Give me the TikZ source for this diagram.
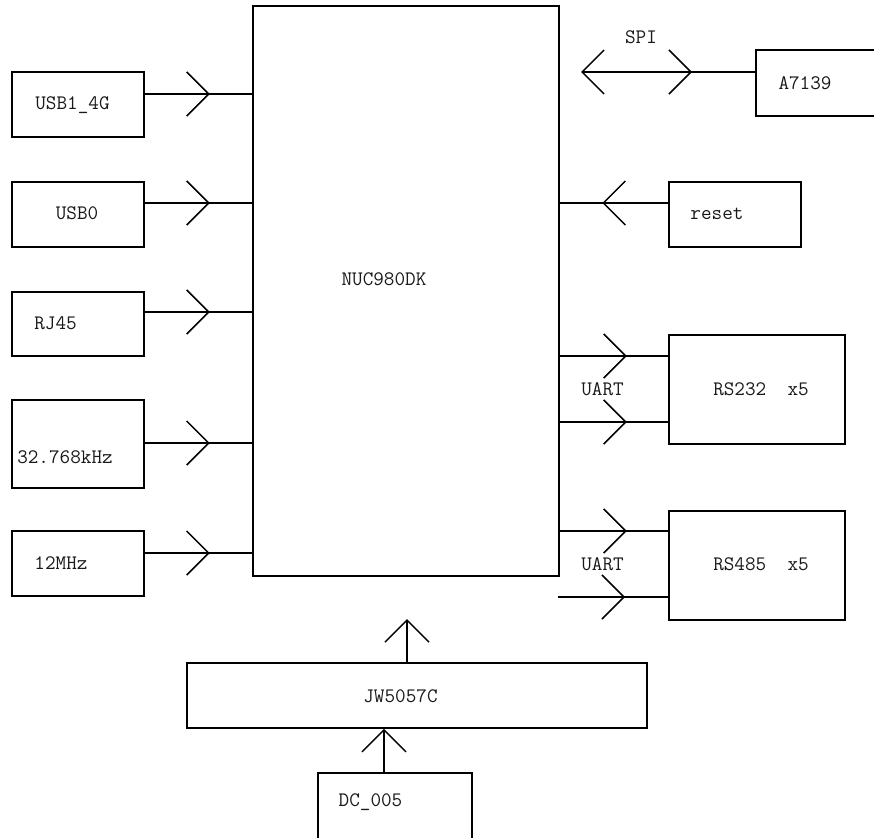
\documentclass[tikz,border=0pt]{standalone}
\usepackage{fontspec}
\usetikzlibrary{arrows.meta,decorations.markings}

\begin{document}
\begin{tikzpicture}[x=1pt,y=-1pt,line width=1.5pt,
    >={Straight Barb[length=22pt,width=44pt]},
    blk/.style args={#1x#2}{draw,minimum width=#1pt,minimum height=#2pt,inner sep=0pt},
    txt/.style={anchor=base,inner sep=0pt,font=\ttfamily\fontsize{20.6}{22}\selectfont,text=black!90},
    flow/.style={postaction={decorate},
      decoration={markings,mark=at position #1 with {\arrow{>}}}}]
  \useasboundingbox (0,0) rectangle (874,837);
  \clip (0,0) rectangle (874,837);

  % main controller
  \node[blk=306x570] (nuc) at (406,291) {};
  \node[txt] (nuc-t) at (384,285) {NUC980DK};

  % left column: name/centre y/height/label x/label y/label/line y
  \foreach \nm/\yc/\hh/\tx/\ty/\lbl/\ly in {
      usbA/104.5/65/72.5/110/USB1\_4G/94,
      usbB/214.5/65/77/219/USB0/203,
      rj/324/64/55.5/329/RJ45/312,
      rtc/444/88/65/463/32.768kHz/443,
      osc/563.5/65/61/569/12MHz/553}{
    \node[blk=132x\hh] (\nm) at (78,\yc) {};
    \node[txt] (\nm-t) at (\tx,\ty) {\lbl};
    \draw[flow=65pt] (\nm.east |- 0,\ly) -- (nuc.west |- 0,\ly);
  }

  % SPI radio
  \node[blk=124x66] (rf) at (818,83) {};
  \node[txt] (rf-t) at (805,90) {A7139};
  \coordinate (spiend) at (581,72);
  \draw[<-,flow=111pt] (spiend) -- (rf.west |- 0,72);
  \node[txt] (spi-t) at (641,44) {SPI};

  % reset
  \node[blk=132x65] (rst) at (735,214.5) {};
  \node[txt] (rst-t) at (717,219) {reset};
  \draw[flow=66pt] (rst.west |- 0,203) -- (nuc.east |- 0,203);

  % serial ports
  \node[blk=176x109] (rsA) at (757,389.5) {};
  \node[txt] (rsA-t) at (761,395) {RS232\ \ x5};
  \node[txt] (uartA-t) at (602.5,395) {UART};
  \draw[flow=67pt] (nuc.east |- 0,356) -- (rsA.west |- 0,356);
  \draw[flow=67pt] (nuc.east |- 0,422) -- (rsA.west |- 0,422);

  \node[blk=176x109] (rsB) at (757,565.5) {};
  \node[txt] (rsB-t) at (761,570) {RS485\ \ x5};
  \node[txt] (uartB-t) at (602.5,570) {UART};
  \coordinate (uartfree) at (558,597);
  \draw[flow=67pt] (nuc.east |- 0,531) -- (rsB.west |- 0,531);
  \draw[flow=67pt] (uartfree) -- (rsB.west |- 0,597);

  % power
  \node[blk=460x65] (pwr) at (417,695.5) {};
  \node[txt] (pwr-t) at (400.5,702) {JW5057C};
  \coordinate (pwrout) at (407,619);
  \draw[->] (pwrout |- pwr.north) -- (pwrout);

  \node[blk=154x90] (dc) at (395,818) {};
  \node[txt] (dc-t) at (370.5,806) {DC\_005};
  \draw[->] ([xshift=-11pt]dc.north) -- ([xshift=-11pt]dc.north |- pwr.south);
\end{tikzpicture}
\end{document}
